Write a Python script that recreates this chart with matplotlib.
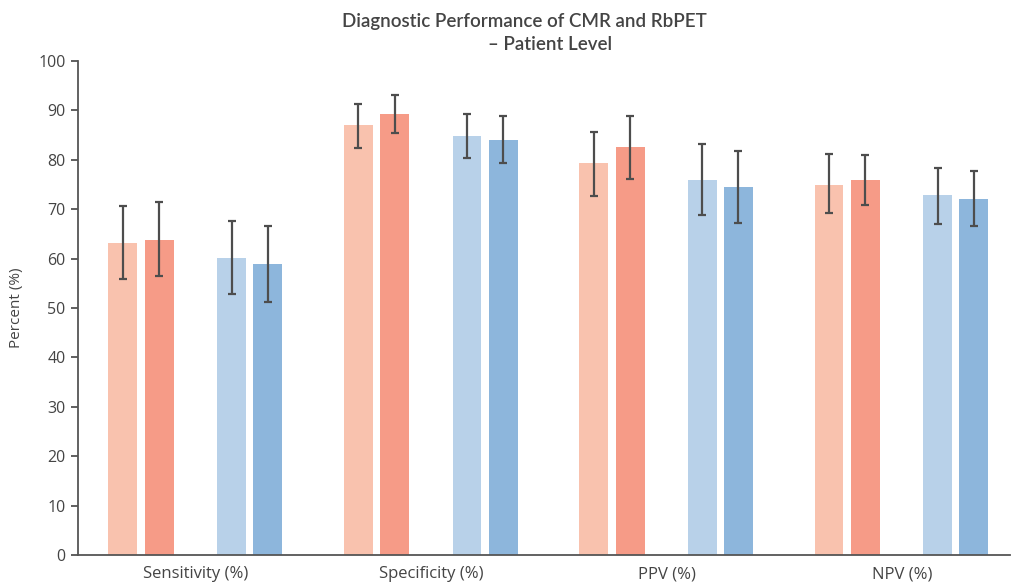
import matplotlib.pyplot as plt
import numpy as np

plt.rcParams["font.family"] = ["Open Sans", "DejaVu Sans"]

categories = ["Sensitivity (%)", "Specificity (%)", "PPV (%)", "NPV (%)"]
series_names = ["CMR 1", "CMR 2", "RbPET 1", "RbPET 2"]
values = [
    [63.2, 87.0, 79.4, 74.9],
    [63.8, 89.3, 82.6, 75.9],
    [60.1, 84.8, 75.9, 72.9],
    [58.9, 84.0, 74.5, 72.1],
]
err_high = [
    [70.7, 91.3, 85.7, 81.1],
    [71.4, 93.2, 88.9, 81.0],
    [67.6, 89.3, 83.3, 78.4],
    [66.7, 88.9, 81.8, 77.8],
]
err_low = [
    [55.9, 82.3, 72.7, 69.2],
    [56.5, 85.4, 76.2, 70.8],
    [52.8, 80.4, 68.9, 67.1],
    [51.2, 79.4, 67.3, 66.6],
]
colors = ["#F9C2AE", "#F69B87", "#B8D1E9", "#8DB6DC"]
offsets = [-0.31, -0.155, 0.152, 0.305]
text_color = "#444444"

fig = plt.figure(figsize=(10.13, 5.85), dpi=100)
ax = fig.add_axes([0.077, 0.0513, 0.92, 0.8444])

x = np.arange(len(categories))
for i, name in enumerate(series_names):
    vals = np.array(values[i])
    yerr = [vals - np.array(err_low[i]), np.array(err_high[i]) - vals]
    ax.bar(x + offsets[i], vals, width=0.123, color=colors[i], label=name, zorder=2)
    ax.errorbar(x + offsets[i], vals, yerr=yerr, fmt="none", ecolor="#4d4d4d",
                elinewidth=1.6, capsize=2.8, capthick=1.6, zorder=3)

ax.set_xlim(-0.501, 3.459)
ax.set_ylim(0, 100)
ax.set_yticks(range(0, 101, 10))
ax.set_xticks(x)
ax.set_xticklabels(categories)
ax.tick_params(axis="x", length=0, pad=8, labelsize=12, colors=text_color)
ax.tick_params(axis="y", length=5, width=1.2, labelsize=11.5, colors=text_color, pad=4)
for side in ("top", "right"):
    ax.spines[side].set_visible(False)
for side in ("left", "bottom"):
    ax.spines[side].set_color("#555555")
    ax.spines[side].set_linewidth(1.3)
ax.set_ylabel("Percent (%)", fontsize=11, color=text_color, labelpad=10)

fig.text(0.518, 0.963, "Diagnostic Performance of CMR and RbPET", ha="center", va="center",
         fontsize=13.5, color=text_color, fontweight="semibold", family=["Lato", "DejaVu Sans"])
fig.text(0.543, 0.924, "– Patient Level", ha="center", va="center",
         fontsize=13.5, color=text_color, fontweight="semibold", family=["Lato", "DejaVu Sans"])

fig.savefig("out.png", dpi=100)
